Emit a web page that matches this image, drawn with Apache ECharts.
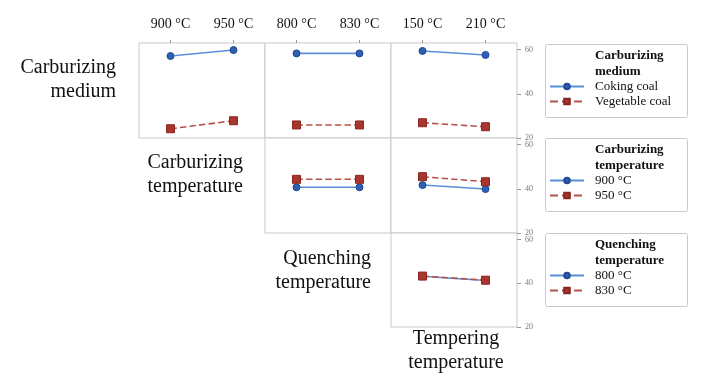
<!DOCTYPE html>
<html>
<head>
<meta charset="utf-8">
<script src="https://cdn.jsdelivr.net/npm/echarts@6/dist/echarts.min.js"></script>
<style>
    html, body { margin: 0; padding: 0; background: #fff; }
    #chart { width: 709px; height: 380px; }
</style>
</head>
<body>
<div id="chart"></div>
<script>
    // factor levels (x categories)
    const carbTemps = ['900 °C', '950 °C']
    const quenchTemps = ['800 °C', '830 °C']
    const temperTemps = ['150 °C', '210 °C']

    // row 1: carburizing medium
    const cokingByCarbTemp = [57.1, 59.8]
    const vegetableByCarbTemp = [24.2, 27.8]
    const cokingByQuench = [58.3, 58.3]
    const vegetableByQuench = [25.9, 25.9]
    const cokingByTemper = [59.4, 57.6]
    const vegetableByTemper = [26.9, 25.1]

    // row 2: carburizing temperature
    const carb900ByQuench = [40.7, 40.7]
    const carb950ByQuench = [44.3, 44.3]
    const carb900ByTemper = [41.7, 39.9]
    const carb950ByTemper = [45.5, 43.2]

    // row 3: quenching temperature
    const q800ByTemper = [43.2, 41.3]
    const q830ByTemper = [43.3, 41.4]

    const yTicks = [20, 40, 60]

    const serif = '"Liberation Serif", "DejaVu Serif", serif'
    const blue = '#2f5fb3'
    const blueLine = '#5a8fd8'
    const red = '#a8362f'
    const redLine = '#b5524b'

    // panel layout: [row, col]
    const colLeft = [139, 265, 391]
    const rowTop = [43, 138, 233]
    const panels = [
        {row: 0, col: 0, cats: carbTemps},
        {row: 0, col: 1, cats: quenchTemps},
        {row: 0, col: 2, cats: temperTemps},
        {row: 1, col: 1, cats: quenchTemps},
        {row: 1, col: 2, cats: temperTemps},
        {row: 2, col: 2, cats: temperTemps}
    ]

    let grid = [], xAxis = [], yAxis = []
    panels.forEach((p, i) => {
        grid.push({
            left: colLeft[p.col], top: rowTop[p.row], width: 126, height: p.row === 2 ? 94 : 95,
            show: true, borderColor: '#c9c9c9', borderWidth: 1, backgroundColor: '#fff'
        })
        xAxis.push({
            type: 'category', gridIndex: i, position: 'top', data: p.cats,
            axisLine: {show: false},
            axisTick: {show: p.row === 0, length: 3, alignWithLabel: true, lineStyle: {color: '#999'}},
            axisLabel: {show: p.row === 0, fontFamily: serif, fontSize: 14, color: '#111', margin: 12},
            splitLine: {show: false}
        })
        yAxis.push({
            type: 'value', gridIndex: i, position: 'right',
            min: yTicks[0], max: 63, interval: yTicks[1] - yTicks[0],
            axisLine: {show: false},
            axisTick: {show: p.col === 2, length: 4, lineStyle: {color: '#999'}},
            axisLabel: {show: p.col === 2, fontFamily: serif, fontSize: 8, color: '#777', margin: 8},
            splitLine: {show: false}
        })
    })

    function line(name, data, idx, isBlue) {
        return {
            name: name, type: 'line', xAxisIndex: idx, yAxisIndex: idx, data: data,
            symbol: isBlue ? 'circle' : 'rect',
            symbolSize: isBlue ? 7 : 8,
            itemStyle: {color: isBlue ? blue : red, borderColor: isBlue ? '#1f4a96' : '#8a2620', borderWidth: 1},
            lineStyle: {color: isBlue ? blueLine : redLine, width: 1.6, type: isBlue ? 'solid' : 'dashed'},
            animation: false
        }
    }

    let series = [
        line('Coking coal', cokingByCarbTemp, 0, true),
        line('Vegetable coal', vegetableByCarbTemp, 0, false),
        line('Coking coal', cokingByQuench, 1, true),
        line('Vegetable coal', vegetableByQuench, 1, false),
        line('Coking coal', cokingByTemper, 2, true),
        line('Vegetable coal', vegetableByTemper, 2, false),
        line('900 °C', carb900ByQuench, 3, true),
        line('950 °C', carb950ByQuench, 3, false),
        line('900 °C', carb900ByTemper, 4, true),
        line('950 °C', carb950ByTemper, 4, false),
        line('800 °C', q800ByTemper, 5, true),
        line('830 °C', q830ByTemper, 5, false)
    ]

    // legend boxes with bold titles
    const legendBoxes = [
        {top: 44, title: 'Carburizing\nmedium', names: ['Coking coal', 'Vegetable coal']},
        {top: 138, title: 'Carburizing\ntemperature', names: ['900 °C', '950 °C']},
        {top: 233, title: 'Quenching\ntemperature', names: ['800 °C', '830 °C']}
    ]
    let legend = [], graphic = []
    legendBoxes.forEach(b => {
        graphic.push({
            type: 'rect', left: 545, top: b.top, shape: {width: 142, height: 73, r: 2},
            style: {fill: '#fff', stroke: '#c9c9c9', lineWidth: 1}, z: 0
        })
        graphic.push({
            type: 'text', left: 595, top: b.top + 4,
            style: {text: b.title, font: 'bold 13px ' + serif, fill: '#111', lineHeight: 16}, z: 1
        })
        legend.push({
            data: b.names, orient: 'vertical', left: 549, top: b.top + 36,
            itemWidth: 34, itemHeight: 7, itemGap: 2, padding: 0,
            textStyle: {fontFamily: serif, fontSize: 13, color: '#111', padding: [0, 0, 0, 6]},
            selectedMode: false
        })
    })

    // row factor labels (anchor x, top y)
    const rowLabels = [
        {x: 116, y: 56, text: 'Carburizing\nmedium', align: 'right'},
        {x: 243, y: 151, text: 'Carburizing\ntemperature', align: 'right'},
        {x: 371, y: 247, text: 'Quenching\ntemperature', align: 'right'},
        {x: 456, y: 327, text: 'Tempering\ntemperature', align: 'center'}
    ]
    rowLabels.forEach(l => {
        graphic.push({
            type: 'text', x: l.x, y: l.y,
            style: {
                text: l.text, font: '20px ' + serif, fill: '#111', lineHeight: 24,
                align: l.align, verticalAlign: 'top'
            },
            z: 1
        })
    })

    let myChart = echarts.init(document.getElementById('chart'))
    myChart.setOption({
        animation: false,
        backgroundColor: '#fff',
        grid: grid,
        xAxis: xAxis,
        yAxis: yAxis,
        legend: legend,
        graphic: graphic,
        series: series
    })
</script>
</body>
</html>
